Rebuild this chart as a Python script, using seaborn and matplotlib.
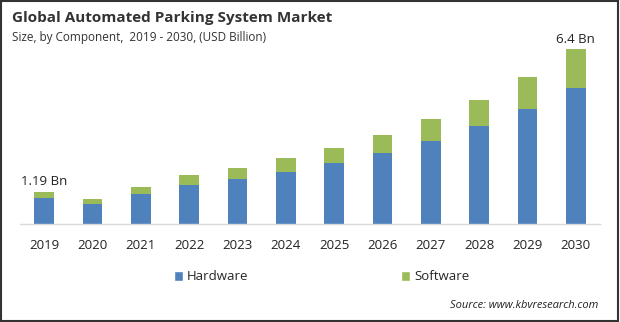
import matplotlib
matplotlib.use("Agg")
import matplotlib.pyplot as plt
import seaborn as sns
import pandas as pd
from matplotlib.patches import Rectangle, Patch

years = ["2019", "2020", "2021", "2022", "2023", "2024", "2025", "2026", "2027", "2028", "2029", "2030"]
hardware = [0.96, 0.72, 1.11, 1.43, 1.66, 1.90, 2.25, 2.61, 3.05, 3.59, 4.22, 4.99]
software = [0.23, 0.20, 0.25, 0.37, 0.39, 0.52, 0.55, 0.66, 0.80, 0.95, 1.16, 1.41]
totals_labels = {"2019": "1.19 Bn", "2030": "6.4 Bn"}

sns.set_theme(style="white")
plt.rcParams['font.family'] = ['Open Sans', 'DejaVu Sans']

hw_color = "#4f81bd"
sw_color = "#9bbb59"

df = pd.DataFrame({"year": years, "Hardware": hardware, "Software": software})
df["Total"] = df["Hardware"] + df["Software"]

fig = plt.figure(figsize=(6.2, 3.22), dpi=100)
ax = fig.add_axes([20/620, (322-224)/322, 580/620, (224-40)/322])

sns.barplot(data=df, x="year", y="Total", color=sw_color, width=0.41, ax=ax,
            saturation=1, edgecolor="none")
sns.barplot(data=df, x="year", y="Hardware", color=hw_color, width=0.41, ax=ax,
            saturation=1, edgecolor="none")

ax.set_xlim(-0.5, len(years) - 0.5)
ax.set_ylim(0, (224-40)/27.3)
ax.set_xlabel("")
ax.set_ylabel("")
ax.set_yticks([])
for s in ["top", "right", "left"]:
    ax.spines[s].set_visible(False)
ax.spines["bottom"].set_color("#d9d9d9")
ax.spines["bottom"].set_linewidth(1.0)
ax.tick_params(axis="x", length=0, pad=11, labelsize=9.5, labelcolor="#222222")

for i, y in enumerate(years):
    if y in totals_labels:
        ax.text(i, df["Total"][i] + 0.12, totals_labels[y], ha="center", va="bottom",
                fontsize=9.5, color="#222222")

fig.text(12/620, 1 - 18/322, "Global Automated Parking System Market", fontsize=11,
         fontweight="bold", color="#333333", ha="left", va="center")
fig.text(12/620, 1 - 37/322, "Size, by Component,  2019 - 2030, (USD Billion)", fontsize=8.5,
         color="#333333", ha="left", va="center")

handles = [Patch(facecolor=hw_color, label="Hardware"), Patch(facecolor=sw_color, label="Software")]
fig.legend(handles=handles[:1], loc="center left", bbox_to_anchor=(174/620, 1 - 277/322),
           frameon=False, fontsize=9.5, handlelength=0.7, handleheight=0.7, handletextpad=0.3,
           borderaxespad=0, borderpad=0)
fig.legend(handles=handles[1:], loc="center left", bbox_to_anchor=(401/620, 1 - 277/322),
           frameon=False, fontsize=9.5, handlelength=0.7, handleheight=0.7, handletextpad=0.3,
           borderaxespad=0, borderpad=0)

fig.text(598/620, 1 - 306/322, "Source: www.kbvresearch.com", fontsize=8, style="italic",
         color="#222222", ha="right", va="center")

fig.patches.append(Rectangle((0.001, 0.003), 0.995, 0.995, transform=fig.transFigure,
                             fill=False, edgecolor="#333333", linewidth=1.5))

fig.savefig("out.png", dpi=100)
